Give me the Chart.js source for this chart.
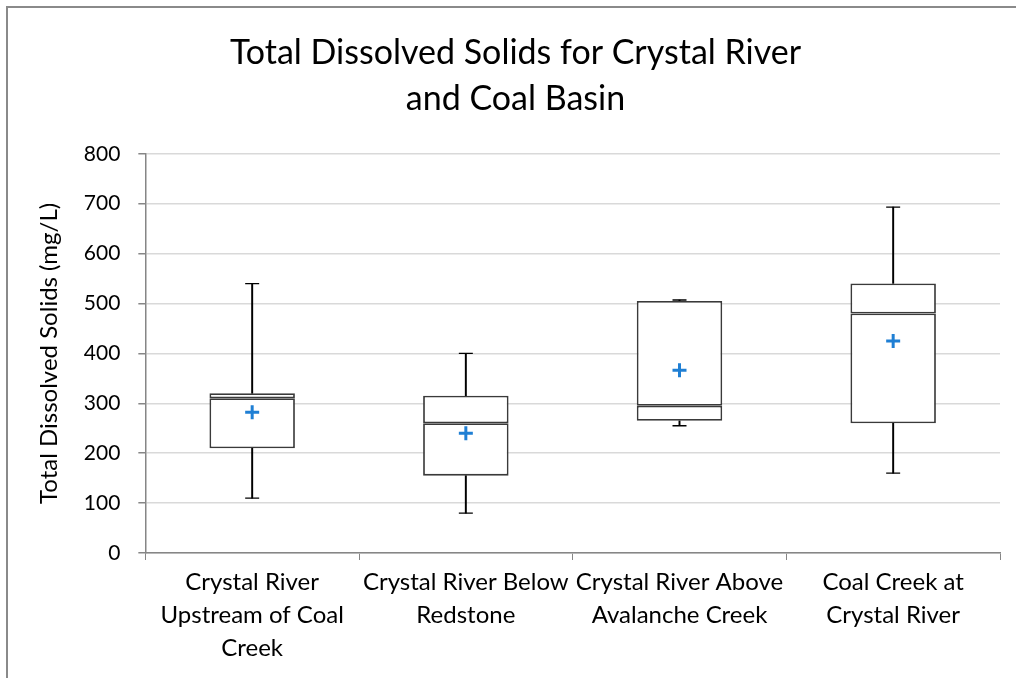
<!DOCTYPE html>
<html>
<head>
<meta charset="utf-8">
<script src="https://cdn.jsdelivr.net/npm/chart.js@4.4.1/dist/chart.umd.min.js"></script>
<style>
  html, body { margin: 0; padding: 0; background: #fff; }
  #wrap { position: relative; width: 1016px; height: 678px; overflow: hidden; }
  #frame { position: absolute; left: 6px; top: 6px; width: 1100px; height: 800px;
           border-left: 2px solid #8a8a8a; border-top: 2px solid #8a8a8a; }
  canvas { position: absolute; left: 0; top: 0; }
</style>
</head>
<body>
<div id="wrap">
  <div id="frame"></div>
  <canvas id="c" width="1016" height="678"></canvas>
</div>
<script>
const categories = [
  ["Crystal River", "Upstream of Coal", "Creek"],
  ["Crystal River Below", "Redstone"],
  ["Crystal River Above", "Avalanche Creek"],
  ["Coal Creek at", "Crystal River"]
];
const minValues    = [110, 80, 255, 160];
const q1Values     = [210, 155, 265, 260];
const medianValues = [310, 260, 295, 480];
const q3Values     = [320, 315, 505, 540];
const maxValues    = [540, 400, 507, 693];
const meanValues   = [282, 240, 366, 425];
const yTicks = [0, 100, 200, 300, 400, 500, 600, 700, 800];

const FONT = "Lato";
const boxColor = "#3a3a3a";

const pair = (a, b) => a.map((v, i) => [v, b[i]]);

const boxCommon = {
  type: "bar", grouped: false, backgroundColor: "#ffffff",
  borderColor: boxColor, borderWidth: 1.8, borderSkipped: false,
  barPercentage: 0.4, categoryPercentage: 1.0, order: 2
};
const whiskCommon = {
  type: "bar", grouped: false, backgroundColor: "#000000",
  borderWidth: 0, barThickness: 1.3, order: 3
};
const capCommon = {
  type: "line", showLine: false, pointStyle: "line", pointRadius: 7,
  pointBorderColor: "#000000", pointBorderWidth: 1.3, pointHoverRadius: 7, order: 1
};

new Chart(document.getElementById("c"), {
  data: {
    labels: categories,
    datasets: [
      Object.assign({ label: "lower whisker", data: pair(minValues, q1Values) }, whiskCommon),
      Object.assign({ label: "upper whisker", data: pair(q3Values, maxValues) }, whiskCommon),
      Object.assign({ label: "lower box", data: pair(q1Values, medianValues) }, boxCommon),
      Object.assign({ label: "upper box", data: pair(medianValues, q3Values) }, boxCommon),
      Object.assign({ label: "min", data: minValues }, capCommon),
      Object.assign({ label: "max", data: maxValues }, capCommon),
      { type: "line", label: "mean", data: meanValues, showLine: false,
        pointStyle: "cross", pointRadius: 7, pointHoverRadius: 7,
        pointBorderColor: "#1f7fd4", pointBorderWidth: 3, order: 0 }
    ]
  },
  options: {
    responsive: false,
    animation: false,
    layout: { padding: { left: 31, right: 16, top: 24, bottom: 7 } },
    plugins: {
      legend: { display: false },
      tooltip: { enabled: false },
      title: {
        display: true,
        text: ["Total Dissolved Solids for Crystal River", "and Coal Basin"],
        color: "#000000",
        font: { family: FONT, size: 34, weight: "normal", lineHeight: 1.35 },
        padding: { top: 6, bottom: 32 }
      }
    },
    scales: {
      x: {
        offset: true,
        grid: { display: true, drawOnChartArea: false, offset: true, tickLength: 7, tickColor: "#868686", color: "#868686" },
        border: { color: "#868686", width: 1.5 },
        ticks: { color: "#000000", font: { family: FONT, size: 24, lineHeight: 1.375 }, maxRotation: 0, padding: 6 }
      },
      y: {
        min: 0, max: 800,
        afterBuildTicks: (axis) => { axis.ticks = yTicks.map(v => ({ value: v })); },
        grid: { color: "#d9d9d9", lineWidth: 1.5, tickLength: 7, tickColor: "#868686" },
        border: { color: "#868686", width: 1.5 },
        ticks: { color: "#000000", font: { family: FONT, size: 21 }, padding: 18 },
        title: { display: true, text: "Total Dissolved Solids (mg/L)", color: "#000000",
                 font: { family: FONT, size: 24 }, padding: { bottom: 2 } }
      }
    }
  }
});
</script>
</body>
</html>
